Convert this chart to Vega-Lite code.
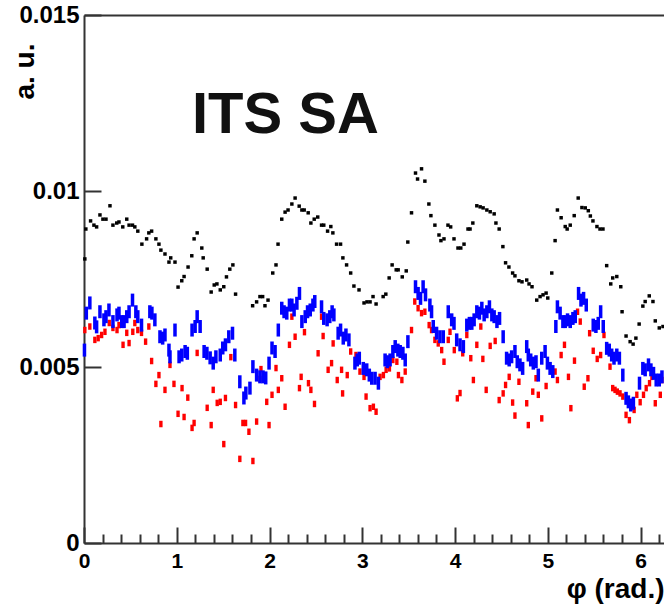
{
  "$schema": "https://vega.github.io/schema/vega-lite/v6.json",
  "width": 580,
  "height": 528,
  "autosize": "none",
  "padding": {"left": 84, "top": 15, "right": 0, "bottom": 62},
  "background": "white",
  "config": {
    "view": {"stroke": null},
    "font": "Liberation Sans",
    "axis": {
      "grid": false,
      "domainColor": "#333333",
      "domainWidth": 2,
      "tickColor": "#333333",
      "tickWidth": 2,
      "labelFont": "Liberation Sans",
      "labelFontWeight": "bold",
      "labelColor": "#000000",
      "titleFont": "Liberation Sans",
      "titleFontWeight": "bold",
      "titleColor": "#000000"
    }
  },
  "datasets": {
    "black": [
      {"phi": 0.009, "v": 0.00807}, {"phi": 0.020, "v": 0.00892}, {"phi": 0.071, "v": 0.00915}, {"phi": 0.107, "v": 0.00903},
      {"phi": 0.136, "v": 0.00898}, {"phi": 0.172, "v": 0.00932}, {"phi": 0.204, "v": 0.00920}, {"phi": 0.237, "v": 0.00920},
      {"phi": 0.280, "v": 0.00958}, {"phi": 0.312, "v": 0.00903}, {"phi": 0.353, "v": 0.00909}, {"phi": 0.377, "v": 0.00912},
      {"phi": 0.418, "v": 0.00898}, {"phi": 0.461, "v": 0.00920}, {"phi": 0.486, "v": 0.00903}, {"phi": 0.523, "v": 0.00903},
      {"phi": 0.548, "v": 0.00898}, {"phi": 0.580, "v": 0.00886}, {"phi": 0.624, "v": 0.00849}, {"phi": 0.675, "v": 0.00864},
      {"phi": 0.699, "v": 0.00881}, {"phi": 0.729, "v": 0.00886}, {"phi": 0.775, "v": 0.00864}, {"phi": 0.808, "v": 0.00849},
      {"phi": 0.829, "v": 0.00832}, {"phi": 0.873, "v": 0.00821}, {"phi": 0.916, "v": 0.00798}, {"phi": 0.935, "v": 0.00810},
      {"phi": 0.981, "v": 0.00798}, {"phi": 1.014, "v": 0.00727}, {"phi": 1.054, "v": 0.00745}, {"phi": 1.079, "v": 0.00757},
      {"phi": 1.122, "v": 0.00784}, {"phi": 1.162, "v": 0.00816}, {"phi": 1.187, "v": 0.00864}, {"phi": 1.220, "v": 0.00881},
      {"phi": 1.270, "v": 0.00838}, {"phi": 1.285, "v": 0.00810}, {"phi": 1.328, "v": 0.00778}, {"phi": 1.371, "v": 0.00713},
      {"phi": 1.404, "v": 0.00733}, {"phi": 1.433, "v": 0.00736}, {"phi": 1.469, "v": 0.00719}, {"phi": 1.507, "v": 0.00728},
      {"phi": 1.536, "v": 0.00756}, {"phi": 1.572, "v": 0.00778}, {"phi": 1.605, "v": 0.00790}, {"phi": 1.634, "v": 0.00707},
      {"phi": 1.818, "v": 0.00674}, {"phi": 1.861, "v": 0.00685}, {"phi": 1.897, "v": 0.00700}, {"phi": 1.926, "v": 0.00700},
      {"phi": 1.951, "v": 0.00674}, {"phi": 1.984, "v": 0.00690}, {"phi": 2.035, "v": 0.00767}, {"phi": 2.070, "v": 0.00790},
      {"phi": 2.092, "v": 0.00849}, {"phi": 2.132, "v": 0.00920}, {"phi": 2.168, "v": 0.00940}, {"phi": 2.200, "v": 0.00946},
      {"phi": 2.241, "v": 0.00963}, {"phi": 2.276, "v": 0.00980}, {"phi": 2.320, "v": 0.00957}, {"phi": 2.349, "v": 0.00946},
      {"phi": 2.374, "v": 0.00946}, {"phi": 2.417, "v": 0.00938}, {"phi": 2.446, "v": 0.00909}, {"phi": 2.482, "v": 0.00920},
      {"phi": 2.520, "v": 0.00926}, {"phi": 2.561, "v": 0.00903}, {"phi": 2.585, "v": 0.00903}, {"phi": 2.626, "v": 0.00886},
      {"phi": 2.661, "v": 0.00899}, {"phi": 2.683, "v": 0.00881}, {"phi": 2.723, "v": 0.00849}, {"phi": 2.766, "v": 0.00849},
      {"phi": 2.791, "v": 0.00810}, {"phi": 2.831, "v": 0.00790}, {"phi": 2.875, "v": 0.00767}, {"phi": 2.910, "v": 0.00730},
      {"phi": 2.965, "v": 0.00719}, {"phi": 3.019, "v": 0.00682}, {"phi": 3.051, "v": 0.00685}, {"phi": 3.084, "v": 0.00685},
      {"phi": 3.116, "v": 0.00700}, {"phi": 3.149, "v": 0.00679}, {"phi": 3.225, "v": 0.00700}, {"phi": 3.254, "v": 0.00707},
      {"phi": 3.290, "v": 0.00753}, {"phi": 3.322, "v": 0.00790}, {"phi": 3.366, "v": 0.00776}, {"phi": 3.387, "v": 0.00776},
      {"phi": 3.431, "v": 0.00756}, {"phi": 3.474, "v": 0.00773}, {"phi": 3.491, "v": 0.00855}, {"phi": 3.531, "v": 0.00938},
      {"phi": 3.574, "v": 0.01051}, {"phi": 3.596, "v": 0.01034}, {"phi": 3.639, "v": 0.01063}, {"phi": 3.675, "v": 0.01028},
      {"phi": 3.718, "v": 0.00963}, {"phi": 3.740, "v": 0.00930}, {"phi": 3.783, "v": 0.00903}, {"phi": 3.827, "v": 0.00875},
      {"phi": 3.848, "v": 0.00859}, {"phi": 3.881, "v": 0.00864}, {"phi": 3.924, "v": 0.00903}, {"phi": 3.953, "v": 0.00898},
      {"phi": 3.989, "v": 0.00864}, {"phi": 4.032, "v": 0.00838}, {"phi": 4.062, "v": 0.00838}, {"phi": 4.097, "v": 0.00849},
      {"phi": 4.140, "v": 0.00892}, {"phi": 4.162, "v": 0.00892}, {"phi": 4.192, "v": 0.00909}, {"phi": 4.235, "v": 0.00958},
      {"phi": 4.271, "v": 0.00955}, {"phi": 4.303, "v": 0.00952}, {"phi": 4.343, "v": 0.00946}, {"phi": 4.379, "v": 0.00941},
      {"phi": 4.422, "v": 0.00935}, {"phi": 4.441, "v": 0.00909}, {"phi": 4.476, "v": 0.00892}, {"phi": 4.516, "v": 0.00842},
      {"phi": 4.545, "v": 0.00796}, {"phi": 4.581, "v": 0.00784}, {"phi": 4.621, "v": 0.00767}, {"phi": 4.646, "v": 0.00759},
      {"phi": 4.689, "v": 0.00745}, {"phi": 4.722, "v": 0.00742}, {"phi": 4.773, "v": 0.00747}, {"phi": 4.798, "v": 0.00736},
      {"phi": 4.830, "v": 0.00728}, {"phi": 4.881, "v": 0.00690}, {"phi": 4.917, "v": 0.00700}, {"phi": 4.949, "v": 0.00705},
      {"phi": 4.982, "v": 0.00710}, {"phi": 5.000, "v": 0.00696}, {"phi": 5.043, "v": 0.00767}, {"phi": 5.079, "v": 0.00859},
      {"phi": 5.104, "v": 0.00946}, {"phi": 5.144, "v": 0.00924}, {"phi": 5.188, "v": 0.00899}, {"phi": 5.209, "v": 0.00892},
      {"phi": 5.242, "v": 0.00903}, {"phi": 5.285, "v": 0.00930}, {"phi": 5.328, "v": 0.00980}, {"phi": 5.368, "v": 0.00953},
      {"phi": 5.404, "v": 0.00952}, {"phi": 5.437, "v": 0.00944}, {"phi": 5.459, "v": 0.00929}, {"phi": 5.487, "v": 0.00915},
      {"phi": 5.530, "v": 0.00899}, {"phi": 5.563, "v": 0.00892}, {"phi": 5.595, "v": 0.00892}, {"phi": 5.635, "v": 0.00788},
      {"phi": 5.679, "v": 0.00736}, {"phi": 5.700, "v": 0.00753}, {"phi": 5.744, "v": 0.00757}, {"phi": 5.787, "v": 0.00728},
      {"phi": 5.801, "v": 0.00657}, {"phi": 5.844, "v": 0.00588}, {"phi": 5.888, "v": 0.00572}, {"phi": 5.920, "v": 0.00565},
      {"phi": 5.950, "v": 0.00582}, {"phi": 5.985, "v": 0.00622}, {"phi": 6.025, "v": 0.00673}, {"phi": 6.050, "v": 0.00686},
      {"phi": 6.094, "v": 0.00702}, {"phi": 6.134, "v": 0.00686}, {"phi": 6.159, "v": 0.00631}, {"phi": 6.202, "v": 0.00611},
      {"phi": 6.242, "v": 0.00615}
    ],
    "red": [
      {"phi": 0.009, "v": 0.00605}, {"phi": 0.063, "v": 0.00615}, {"phi": 0.117, "v": 0.00577}, {"phi": 0.153, "v": 0.00582},
      {"phi": 0.190, "v": 0.00591}, {"phi": 0.226, "v": 0.00600}, {"phi": 0.272, "v": 0.00625}, {"phi": 0.312, "v": 0.00611},
      {"phi": 0.356, "v": 0.00605}, {"phi": 0.377, "v": 0.00619}, {"phi": 0.421, "v": 0.00563}, {"phi": 0.461, "v": 0.00597},
      {"phi": 0.486, "v": 0.00568}, {"phi": 0.526, "v": 0.00600}, {"phi": 0.548, "v": 0.00625}, {"phi": 0.580, "v": 0.00605},
      {"phi": 0.620, "v": 0.00597}, {"phi": 0.664, "v": 0.00572}, {"phi": 0.699, "v": 0.00615}, {"phi": 0.729, "v": 0.00517},
      {"phi": 0.775, "v": 0.00452}, {"phi": 0.808, "v": 0.00477}, {"phi": 0.829, "v": 0.00338}, {"phi": 0.873, "v": 0.00435},
      {"phi": 0.927, "v": 0.00506}, {"phi": 0.970, "v": 0.00452}, {"phi": 1.014, "v": 0.00367}, {"phi": 1.057, "v": 0.00440},
      {"phi": 1.079, "v": 0.00358}, {"phi": 1.119, "v": 0.00413}, {"phi": 1.165, "v": 0.00327}, {"phi": 1.187, "v": 0.00341},
      {"phi": 1.220, "v": 0.00540}, {"phi": 1.328, "v": 0.00384}, {"phi": 1.371, "v": 0.00335}, {"phi": 1.393, "v": 0.00435},
      {"phi": 1.436, "v": 0.00398}, {"phi": 1.469, "v": 0.00401}, {"phi": 1.507, "v": 0.00281}, {"phi": 1.525, "v": 0.00412},
      {"phi": 1.583, "v": 0.00528}, {"phi": 1.634, "v": 0.00392}, {"phi": 1.680, "v": 0.00239}, {"phi": 1.713, "v": 0.00341},
      {"phi": 1.742, "v": 0.00341}, {"phi": 1.778, "v": 0.00316}, {"phi": 1.821, "v": 0.00233}, {"phi": 1.861, "v": 0.00345},
      {"phi": 1.897, "v": 0.00466}, {"phi": 1.908, "v": 0.00494}, {"phi": 1.970, "v": 0.00401}, {"phi": 1.995, "v": 0.00335},
      {"phi": 2.027, "v": 0.00421}, {"phi": 2.070, "v": 0.00497}, {"phi": 2.095, "v": 0.00435}, {"phi": 2.132, "v": 0.00468},
      {"phi": 2.168, "v": 0.00387}, {"phi": 2.215, "v": 0.00563}, {"phi": 2.241, "v": 0.00643}, {"phi": 2.276, "v": 0.00586},
      {"phi": 2.323, "v": 0.00440}, {"phi": 2.341, "v": 0.00472}, {"phi": 2.377, "v": 0.00599}, {"phi": 2.420, "v": 0.00454},
      {"phi": 2.446, "v": 0.00435}, {"phi": 2.485, "v": 0.00395}, {"phi": 2.524, "v": 0.00539}, {"phi": 2.561, "v": 0.00643},
      {"phi": 2.578, "v": 0.00588}, {"phi": 2.632, "v": 0.00492}, {"phi": 2.669, "v": 0.00511}, {"phi": 2.686, "v": 0.00567},
      {"phi": 2.730, "v": 0.00463}, {"phi": 2.777, "v": 0.00492}, {"phi": 2.788, "v": 0.00425}, {"phi": 2.838, "v": 0.00477},
      {"phi": 2.875, "v": 0.00544}, {"phi": 2.932, "v": 0.00534}, {"phi": 2.975, "v": 0.00487}, {"phi": 3.019, "v": 0.00472},
      {"phi": 3.041, "v": 0.00416}, {"phi": 3.084, "v": 0.00383}, {"phi": 3.120, "v": 0.00387}, {"phi": 3.149, "v": 0.00373},
      {"phi": 3.192, "v": 0.00472}, {"phi": 3.228, "v": 0.00477}, {"phi": 3.257, "v": 0.00492}, {"phi": 3.293, "v": 0.00496},
      {"phi": 3.330, "v": 0.00520}, {"phi": 3.373, "v": 0.00515}, {"phi": 3.390, "v": 0.00477}, {"phi": 3.427, "v": 0.00463},
      {"phi": 3.463, "v": 0.00487}, {"phi": 3.531, "v": 0.00605}, {"phi": 3.566, "v": 0.00686}, {"phi": 3.602, "v": 0.00667},
      {"phi": 3.639, "v": 0.00653}, {"phi": 3.675, "v": 0.00657}, {"phi": 3.721, "v": 0.00619}, {"phi": 3.747, "v": 0.00605},
      {"phi": 3.783, "v": 0.00577}, {"phi": 3.819, "v": 0.00567}, {"phi": 3.856, "v": 0.00548}, {"phi": 3.881, "v": 0.00515},
      {"phi": 3.927, "v": 0.00577}, {"phi": 3.946, "v": 0.00600}, {"phi": 3.992, "v": 0.00548}, {"phi": 4.025, "v": 0.00411},
      {"phi": 4.054, "v": 0.00426}, {"phi": 4.083, "v": 0.00539}, {"phi": 4.127, "v": 0.00591}, {"phi": 4.170, "v": 0.00525},
      {"phi": 4.198, "v": 0.00463}, {"phi": 4.235, "v": 0.00563}, {"phi": 4.278, "v": 0.00615}, {"phi": 4.300, "v": 0.00523},
      {"phi": 4.336, "v": 0.00435}, {"phi": 4.379, "v": 0.00560}, {"phi": 4.433, "v": 0.00574}, {"phi": 4.476, "v": 0.00406},
      {"phi": 4.519, "v": 0.00425}, {"phi": 4.545, "v": 0.00449}, {"phi": 4.584, "v": 0.00472}, {"phi": 4.621, "v": 0.00399},
      {"phi": 4.646, "v": 0.00362}, {"phi": 4.689, "v": 0.00458}, {"phi": 4.773, "v": 0.00397}, {"phi": 4.790, "v": 0.00335},
      {"phi": 4.838, "v": 0.00430}, {"phi": 4.873, "v": 0.00468}, {"phi": 4.898, "v": 0.00421}, {"phi": 4.935, "v": 0.00354},
      {"phi": 4.982, "v": 0.00446}, {"phi": 5.079, "v": 0.00487}, {"phi": 5.104, "v": 0.00463}, {"phi": 5.144, "v": 0.00534},
      {"phi": 5.180, "v": 0.00563}, {"phi": 5.223, "v": 0.00472}, {"phi": 5.249, "v": 0.00383}, {"phi": 5.288, "v": 0.00518},
      {"phi": 5.321, "v": 0.00657}, {"phi": 5.350, "v": 0.00629}, {"phi": 5.393, "v": 0.00444}, {"phi": 5.433, "v": 0.00468},
      {"phi": 5.451, "v": 0.00596}, {"phi": 5.490, "v": 0.00546}, {"phi": 5.533, "v": 0.00523}, {"phi": 5.570, "v": 0.00534},
      {"phi": 5.606, "v": 0.00591}, {"phi": 5.671, "v": 0.00501}, {"phi": 5.700, "v": 0.00440}, {"phi": 5.725, "v": 0.00435},
      {"phi": 5.750, "v": 0.00430}, {"phi": 5.779, "v": 0.00425}, {"phi": 5.809, "v": 0.00416}, {"phi": 5.844, "v": 0.00364},
      {"phi": 5.880, "v": 0.00349}, {"phi": 5.906, "v": 0.00392}, {"phi": 5.931, "v": 0.00378}, {"phi": 5.960, "v": 0.00421},
      {"phi": 5.996, "v": 0.00400}, {"phi": 6.032, "v": 0.00421}, {"phi": 6.061, "v": 0.00440}, {"phi": 6.097, "v": 0.00454},
      {"phi": 6.123, "v": 0.00472}, {"phi": 6.159, "v": 0.00397}, {"phi": 6.213, "v": 0.00421}, {"phi": 6.231, "v": 0.00463}
    ],
    "blue": [
      {"phi": 0.005, "v": 0.00548}, {"phi": 0.025, "v": 0.00653}, {"phi": 0.063, "v": 0.00682}, {"phi": 0.117, "v": 0.00625},
      {"phi": 0.136, "v": 0.00614}, {"phi": 0.172, "v": 0.00657}, {"phi": 0.215, "v": 0.00634}, {"phi": 0.237, "v": 0.00643},
      {"phi": 0.269, "v": 0.00662}, {"phi": 0.312, "v": 0.00629}, {"phi": 0.356, "v": 0.00648}, {"phi": 0.377, "v": 0.00653},
      {"phi": 0.407, "v": 0.00629}, {"phi": 0.432, "v": 0.00629}, {"phi": 0.461, "v": 0.00643}, {"phi": 0.486, "v": 0.00657},
      {"phi": 0.523, "v": 0.00690}, {"phi": 0.559, "v": 0.00657}, {"phi": 0.580, "v": 0.00643}, {"phi": 0.620, "v": 0.00619},
      {"phi": 0.710, "v": 0.00657}, {"phi": 0.732, "v": 0.00653}, {"phi": 0.764, "v": 0.00634}, {"phi": 0.819, "v": 0.00586},
      {"phi": 0.848, "v": 0.00582}, {"phi": 0.873, "v": 0.00591}, {"phi": 0.916, "v": 0.00548}, {"phi": 0.927, "v": 0.00529},
      {"phi": 0.981, "v": 0.00605}, {"phi": 1.025, "v": 0.00529}, {"phi": 1.054, "v": 0.00534}, {"phi": 1.090, "v": 0.00544},
      {"phi": 1.114, "v": 0.00539}, {"phi": 1.165, "v": 0.00605}, {"phi": 1.198, "v": 0.00615}, {"phi": 1.220, "v": 0.00643},
      {"phi": 1.252, "v": 0.00615}, {"phi": 1.295, "v": 0.00544}, {"phi": 1.325, "v": 0.00539}, {"phi": 1.360, "v": 0.00526},
      {"phi": 1.393, "v": 0.00511}, {"phi": 1.422, "v": 0.00529}, {"phi": 1.469, "v": 0.00534}, {"phi": 1.496, "v": 0.00554},
      {"phi": 1.525, "v": 0.00563}, {"phi": 1.561, "v": 0.00586}, {"phi": 1.601, "v": 0.00596}, {"phi": 1.626, "v": 0.00534},
      {"phi": 1.680, "v": 0.00458}, {"phi": 1.724, "v": 0.00412}, {"phi": 1.745, "v": 0.00426}, {"phi": 1.789, "v": 0.00440},
      {"phi": 1.821, "v": 0.00501}, {"phi": 1.861, "v": 0.00477}, {"phi": 1.897, "v": 0.00472}, {"phi": 1.930, "v": 0.00472},
      {"phi": 1.959, "v": 0.00469}, {"phi": 1.995, "v": 0.00511}, {"phi": 2.027, "v": 0.00554}, {"phi": 2.060, "v": 0.00544},
      {"phi": 2.095, "v": 0.00605}, {"phi": 2.132, "v": 0.00667}, {"phi": 2.157, "v": 0.00657}, {"phi": 2.186, "v": 0.00653},
      {"phi": 2.215, "v": 0.00676}, {"phi": 2.241, "v": 0.00676}, {"phi": 2.265, "v": 0.00662}, {"phi": 2.295, "v": 0.00681},
      {"phi": 2.323, "v": 0.00709}, {"phi": 2.349, "v": 0.00629}, {"phi": 2.385, "v": 0.00643}, {"phi": 2.410, "v": 0.00657},
      {"phi": 2.439, "v": 0.00662}, {"phi": 2.468, "v": 0.00676}, {"phi": 2.488, "v": 0.00686}, {"phi": 2.561, "v": 0.00671},
      {"phi": 2.585, "v": 0.00638}, {"phi": 2.621, "v": 0.00634}, {"phi": 2.650, "v": 0.00643}, {"phi": 2.675, "v": 0.00657},
      {"phi": 2.694, "v": 0.00648}, {"phi": 2.740, "v": 0.00596}, {"phi": 2.766, "v": 0.00605}, {"phi": 2.795, "v": 0.00582},
      {"phi": 2.824, "v": 0.00591}, {"phi": 2.856, "v": 0.00577}, {"phi": 2.921, "v": 0.00511}, {"phi": 2.946, "v": 0.00520},
      {"phi": 2.968, "v": 0.00525}, {"phi": 3.011, "v": 0.00496}, {"phi": 3.048, "v": 0.00492}, {"phi": 3.076, "v": 0.00477},
      {"phi": 3.102, "v": 0.00468}, {"phi": 3.138, "v": 0.00468}, {"phi": 3.174, "v": 0.00454}, {"phi": 3.246, "v": 0.00520},
      {"phi": 3.271, "v": 0.00515}, {"phi": 3.300, "v": 0.00520}, {"phi": 3.330, "v": 0.00544}, {"phi": 3.355, "v": 0.00558},
      {"phi": 3.384, "v": 0.00548}, {"phi": 3.409, "v": 0.00544}, {"phi": 3.438, "v": 0.00539}, {"phi": 3.463, "v": 0.00520},
      {"phi": 3.492, "v": 0.00572}, {"phi": 3.574, "v": 0.00728}, {"phi": 3.602, "v": 0.00709}, {"phi": 3.628, "v": 0.00695},
      {"phi": 3.656, "v": 0.00728}, {"phi": 3.682, "v": 0.00705}, {"phi": 3.729, "v": 0.00676}, {"phi": 3.747, "v": 0.00657},
      {"phi": 3.765, "v": 0.00615}, {"phi": 3.801, "v": 0.00596}, {"phi": 3.837, "v": 0.00586}, {"phi": 3.873, "v": 0.00586},
      {"phi": 3.927, "v": 0.00657}, {"phi": 3.964, "v": 0.00634}, {"phi": 3.989, "v": 0.00624}, {"phi": 4.018, "v": 0.00577},
      {"phi": 4.054, "v": 0.00563}, {"phi": 4.090, "v": 0.00558}, {"phi": 4.127, "v": 0.00619}, {"phi": 4.155, "v": 0.00624},
      {"phi": 4.181, "v": 0.00624}, {"phi": 4.206, "v": 0.00634}, {"phi": 4.235, "v": 0.00657}, {"phi": 4.263, "v": 0.00653},
      {"phi": 4.289, "v": 0.00667}, {"phi": 4.314, "v": 0.00648}, {"phi": 4.343, "v": 0.00657}, {"phi": 4.371, "v": 0.00671},
      {"phi": 4.397, "v": 0.00648}, {"phi": 4.422, "v": 0.00643}, {"phi": 4.452, "v": 0.00629}, {"phi": 4.480, "v": 0.00638},
      {"phi": 4.519, "v": 0.00586}, {"phi": 4.556, "v": 0.00525}, {"phi": 4.584, "v": 0.00520}, {"phi": 4.610, "v": 0.00529},
      {"phi": 4.646, "v": 0.00544}, {"phi": 4.671, "v": 0.00515}, {"phi": 4.700, "v": 0.00506}, {"phi": 4.729, "v": 0.00496},
      {"phi": 4.773, "v": 0.00558}, {"phi": 4.790, "v": 0.00534}, {"phi": 4.816, "v": 0.00520}, {"phi": 4.844, "v": 0.00511},
      {"phi": 4.873, "v": 0.00515}, {"phi": 4.898, "v": 0.00477}, {"phi": 4.935, "v": 0.00525}, {"phi": 4.971, "v": 0.00544},
      {"phi": 4.996, "v": 0.00511}, {"phi": 5.025, "v": 0.00496}, {"phi": 5.054, "v": 0.00487}, {"phi": 5.087, "v": 0.00615},
      {"phi": 5.104, "v": 0.00671}, {"phi": 5.133, "v": 0.00653}, {"phi": 5.163, "v": 0.00629}, {"phi": 5.188, "v": 0.00629},
      {"phi": 5.213, "v": 0.00634}, {"phi": 5.242, "v": 0.00629}, {"phi": 5.271, "v": 0.00638}, {"phi": 5.296, "v": 0.00643},
      {"phi": 5.332, "v": 0.00709}, {"phi": 5.358, "v": 0.00690}, {"phi": 5.386, "v": 0.00695}, {"phi": 5.415, "v": 0.00676},
      {"phi": 5.490, "v": 0.00619}, {"phi": 5.519, "v": 0.00615}, {"phi": 5.544, "v": 0.00624}, {"phi": 5.570, "v": 0.00657},
      {"phi": 5.598, "v": 0.00615}, {"phi": 5.635, "v": 0.00553}, {"phi": 5.663, "v": 0.00548}, {"phi": 5.689, "v": 0.00534},
      {"phi": 5.714, "v": 0.00525}, {"phi": 5.744, "v": 0.00534}, {"phi": 5.772, "v": 0.00525}, {"phi": 5.809, "v": 0.00477},
      {"phi": 5.844, "v": 0.00411}, {"phi": 5.869, "v": 0.00401}, {"phi": 5.895, "v": 0.00392}, {"phi": 5.923, "v": 0.00397},
      {"phi": 5.989, "v": 0.00454}, {"phi": 6.025, "v": 0.00496}, {"phi": 6.050, "v": 0.00492}, {"phi": 6.086, "v": 0.00506},
      {"phi": 6.112, "v": 0.00492}, {"phi": 6.140, "v": 0.00482}, {"phi": 6.169, "v": 0.00463}, {"phi": 6.202, "v": 0.00463},
      {"phi": 6.231, "v": 0.00472}
    ]
  },
  "resolve": {"axis": {"x": "independent"}},
  "layer": [
    {
      "data": {"name": "black"},
      "mark": {"type": "point", "shape": "square", "filled": true, "size": 12, "color": "#000000", "opacity": 1, "strokeWidth": 0},
      "encoding": {
        "x": {
          "field": "phi", "type": "quantitative",
          "scale": {"domain": [0, 6.253], "nice": false, "zero": false},
          "axis": {
            "orient": "bottom",
            "values": [0, 0.2, 0.4, 0.6, 0.8, 1, 1.2, 1.4, 1.6, 1.8, 2, 2.2, 2.4, 2.6, 2.8, 3, 3.2, 3.4, 3.6, 3.8, 4, 4.2, 4.4, 4.6, 4.8, 5, 5.2, 5.4, 5.6, 5.8, 6, 6.2],
            "format": "~g",
            "tickSize": {"condition": {"test": "datum.value % 1 === 0", "value": -16}, "value": -9},
            "labelExpr": "datum.value % 1 === 0 ? datum.label : ''",
            "labelPadding": 23,
            "labelFontSize": 21,
            "labelFlush": false,
            "labelOverlap": false,
            "labelBaseline": "top",
            "title": "φ (rad.)",
            "titleFontSize": 28,
            "titleAngle": 0,
            "titleAlign": "right",
            "titleBaseline": "alphabetic",
            "titleX": 580,
            "titleY": 54
          }
        },
        "y": {
          "field": "v", "type": "quantitative",
          "scale": {"domain": [0, 0.015], "nice": false, "zero": false},
          "axis": {
            "orient": "left",
            "values": [0, 0.005, 0.01, 0.015],
            "format": "~g",
            "tickSize": -17,
            "labelPadding": 22,
            "labelFontSize": 24,
            "labelBaseline": "middle",
            "title": "a. u.",
            "titleFontSize": 28,
            "titleAngle": -90,
            "titleAlign": "right",
            "titleBaseline": "alphabetic",
            "titleX": -51,
            "titleY": 28
          }
        }
      }
    },
    {
      "data": {"name": "red"},
      "mark": {"type": "point", "shape": "M-0.52,-1H0.52V1H-0.52Z", "filled": true, "size": 42, "color": "#ff0000", "opacity": 1, "strokeWidth": 0},
      "encoding": {
        "x": {
          "field": "phi", "type": "quantitative",
          "axis": {"orient": "top", "labels": false, "ticks": false, "domain": true, "title": null}
        },
        "y": {"field": "v", "type": "quantitative"}
      }
    },
    {
      "data": {"name": "blue"},
      "mark": {"type": "point", "shape": "M-0.27,-1H0.27V1H-0.27Z", "filled": true, "size": 169, "color": "#0000ff", "opacity": 1, "strokeWidth": 0},
      "encoding": {
        "x": {"field": "phi", "type": "quantitative", "axis": null},
        "y": {"field": "v", "type": "quantitative"}
      }
    },
    {
      "data": {"values": [{"label": "ITS SA"}]},
      "mark": {"type": "text", "font": "Liberation Sans", "fontWeight": "bold", "fontSize": 58, "align": "left", "baseline": "alphabetic", "color": "#111111"},
      "encoding": {
        "x": {"datum": 1.164, "type": "quantitative", "axis": null},
        "y": {"datum": 0.01164, "type": "quantitative"},
        "text": {"field": "label"}
      }
    }
  ]
}
